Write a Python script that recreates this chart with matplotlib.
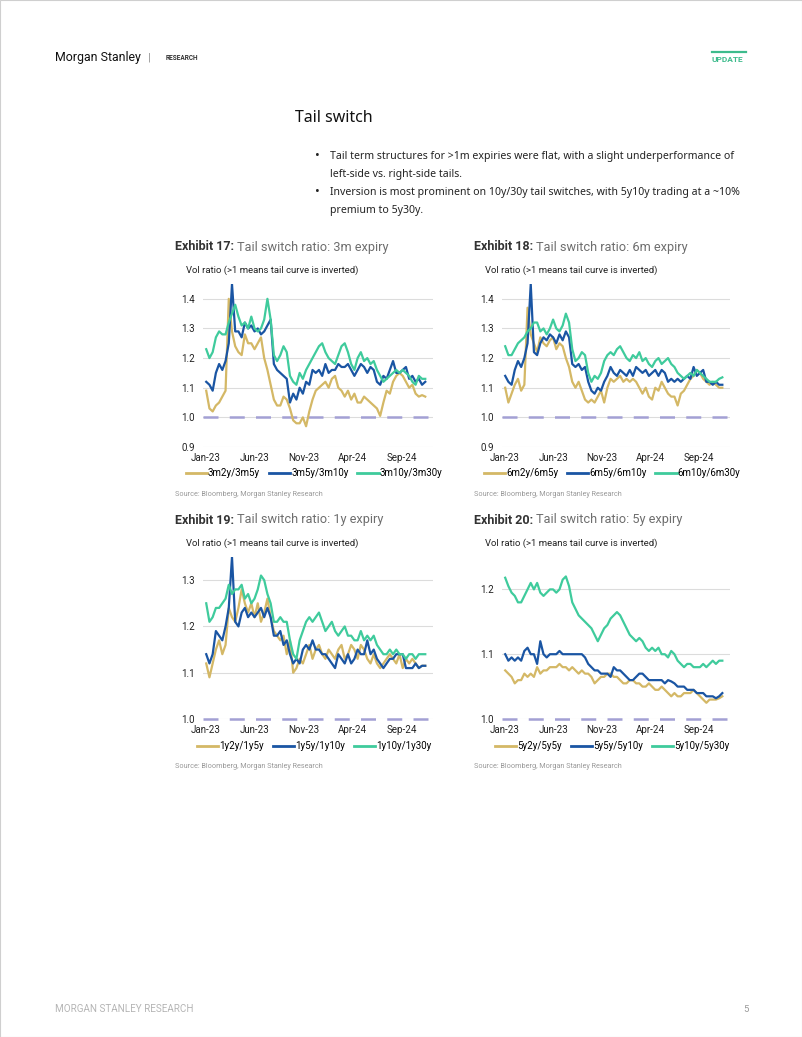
import matplotlib
matplotlib.use('Agg')
import matplotlib.pyplot as plt
from matplotlib.lines import Line2D
from matplotlib.patches import Rectangle
import pandas as pd

plt.rcParams['font.family'] = ['Roboto', 'DejaVu Sans']

W, H = 802, 1037

# sample dates, one every 10 days (Jan-23 .. Nov-24)
dates = pd.date_range('2023-01-02', periods=69, freq='10D')

# Exhibit 17: 3m expiry
r3m_2y5y = [1.09, 1.03, 1.02, 1.04, 1.05, 1.07, 1.09, 1.40, 1.29, 1.24,
            1.22, 1.21, 1.28, 1.25, 1.25, 1.23, 1.25, 1.27, 1.20, 1.16,
            1.11, 1.06, 1.04, 1.04, 1.07, 1.06, 1.03, 0.99, 0.98, 0.98,
            1.00, 0.97, 1.02, 1.06, 1.09, 1.10, 1.11, 1.12, 1.10, 1.13,
            1.14, 1.10, 1.09, 1.07, 1.09, 1.06, 1.08, 1.05, 1.05, 1.07,
            1.06, 1.05, 1.04, 1.03, 1.005, 1.05, 1.09, 1.08, 1.12, 1.14,
            1.15, 1.14, 1.12, 1.10, 1.11, 1.08, 1.07, 1.075, 1.07]
r3m_5y10y = [1.12, 1.11, 1.09, 1.15, 1.18, 1.16, 1.19, 1.25, 1.45, 1.29,
             1.29, 1.27, 1.32, 1.30, 1.31, 1.29, 1.30, 1.28, 1.29, 1.31,
             1.33, 1.18, 1.16, 1.15, 1.14, 1.13, 1.05, 1.08, 1.06, 1.10,
             1.08, 1.12, 1.11, 1.16, 1.15, 1.16, 1.14, 1.18, 1.15, 1.16,
             1.16, 1.18, 1.17, 1.17, 1.18, 1.16, 1.14, 1.16, 1.18, 1.17,
             1.15, 1.17, 1.16, 1.12, 1.11, 1.14, 1.13, 1.16, 1.19, 1.15,
             1.15, 1.16, 1.17, 1.13, 1.14, 1.12, 1.13, 1.11, 1.12]
r3m_10y30y = [1.23, 1.20, 1.22, 1.27, 1.29, 1.28, 1.28, 1.32, 1.35, 1.38,
              1.34, 1.31, 1.32, 1.30, 1.34, 1.30, 1.29, 1.30, 1.33, 1.40,
              1.33, 1.21, 1.19, 1.21, 1.24, 1.22, 1.14, 1.12, 1.11, 1.15,
              1.13, 1.16, 1.18, 1.20, 1.22, 1.24, 1.25, 1.22, 1.20, 1.19,
              1.18, 1.21, 1.24, 1.25, 1.22, 1.18, 1.16, 1.20, 1.22, 1.19,
              1.20, 1.18, 1.19, 1.16, 1.14, 1.12, 1.13, 1.14, 1.15, 1.16,
              1.15, 1.16, 1.15, 1.14, 1.12, 1.11, 1.14, 1.13, 1.13]

# Exhibit 18: 6m expiry
r6m_2y5y = [1.10, 1.05, 1.08, 1.11, 1.13, 1.09, 1.11, 1.37, 1.28, 1.25,
            1.22, 1.27, 1.25, 1.24, 1.26, 1.27, 1.23, 1.25, 1.24, 1.20,
            1.17, 1.12, 1.10, 1.12, 1.09, 1.06, 1.05, 1.06, 1.05, 1.07,
            1.09, 1.05, 1.10, 1.13, 1.12, 1.13, 1.14, 1.12, 1.13, 1.12,
            1.13, 1.12, 1.10, 1.08, 1.10, 1.07, 1.06, 1.10, 1.09, 1.12,
            1.10, 1.08, 1.07, 1.07, 1.04, 1.08, 1.09, 1.11, 1.13, 1.14,
            1.16, 1.15, 1.13, 1.12, 1.11, 1.12, 1.11, 1.10, 1.10]
r6m_5y10y = [1.14, 1.12, 1.11, 1.16, 1.19, 1.17, 1.20, 1.25, 1.45, 1.22,
             1.21, 1.25, 1.27, 1.26, 1.28, 1.27, 1.25, 1.28, 1.26, 1.29,
             1.27, 1.18, 1.17, 1.18, 1.16, 1.17, 1.12, 1.09, 1.08, 1.10,
             1.09, 1.12, 1.14, 1.17, 1.15, 1.14, 1.16, 1.15, 1.14, 1.16,
             1.14, 1.17, 1.16, 1.15, 1.16, 1.14, 1.15, 1.16, 1.14, 1.16,
             1.15, 1.12, 1.13, 1.12, 1.13, 1.12, 1.13, 1.14, 1.13, 1.17,
             1.14, 1.15, 1.16, 1.12, 1.12, 1.11, 1.12, 1.11, 1.11]
r6m_10y30y = [1.24, 1.21, 1.21, 1.23, 1.25, 1.26, 1.27, 1.29, 1.30, 1.32,
              1.32, 1.29, 1.30, 1.28, 1.30, 1.33, 1.30, 1.29, 1.31, 1.35,
              1.32, 1.23, 1.19, 1.20, 1.22, 1.21, 1.15, 1.12, 1.14, 1.13,
              1.15, 1.19, 1.21, 1.22, 1.21, 1.23, 1.24, 1.22, 1.20, 1.19,
              1.21, 1.20, 1.22, 1.19, 1.20, 1.18, 1.17, 1.19, 1.20, 1.18,
              1.19, 1.20, 1.18, 1.17, 1.15, 1.14, 1.13, 1.14, 1.15, 1.14,
              1.16, 1.15, 1.14, 1.13, 1.12, 1.12, 1.12, 1.13, 1.135]

# Exhibit 19: 1y expiry
r1y_2y5y = [1.12, 1.09, 1.12, 1.15, 1.17, 1.14, 1.16, 1.24, 1.22, 1.21,
            1.24, 1.28, 1.25, 1.23, 1.25, 1.22, 1.25, 1.21, 1.23, 1.26,
            1.22, 1.19, 1.18, 1.17, 1.18, 1.14, 1.17, 1.10, 1.11, 1.13,
            1.12, 1.14, 1.16, 1.13, 1.15, 1.16, 1.14, 1.13, 1.15, 1.14,
            1.13, 1.15, 1.16, 1.13, 1.14, 1.16, 1.15, 1.13, 1.16, 1.15,
            1.13, 1.12, 1.14, 1.12, 1.11, 1.12, 1.13, 1.14, 1.13, 1.12,
            1.14, 1.11, 1.13, 1.12, 1.13, 1.12, 1.11, 1.115, 1.115]
r1y_5y10y = [1.14, 1.12, 1.14, 1.19, 1.18, 1.17, 1.20, 1.24, 1.35, 1.21,
             1.20, 1.23, 1.24, 1.22, 1.23, 1.22, 1.23, 1.24, 1.22, 1.24,
             1.22, 1.18, 1.18, 1.19, 1.16, 1.17, 1.14, 1.12, 1.13, 1.12,
             1.15, 1.16, 1.15, 1.17, 1.15, 1.15, 1.14, 1.14, 1.13, 1.12,
             1.11, 1.14, 1.13, 1.12, 1.14, 1.12, 1.13, 1.15, 1.14, 1.14,
             1.17, 1.14, 1.15, 1.13, 1.12, 1.11, 1.12, 1.13, 1.13, 1.14,
             1.14, 1.14, 1.11, 1.11, 1.11, 1.12, 1.11, 1.115, 1.115]
r1y_10y30y = [1.25, 1.21, 1.22, 1.24, 1.24, 1.25, 1.26, 1.29, 1.27, 1.28,
              1.28, 1.29, 1.26, 1.27, 1.25, 1.26, 1.28, 1.31, 1.30, 1.27,
              1.25, 1.21, 1.21, 1.22, 1.21, 1.21, 1.17, 1.14, 1.13, 1.17,
              1.19, 1.21, 1.22, 1.21, 1.22, 1.23, 1.21, 1.19, 1.20, 1.21,
              1.19, 1.18, 1.19, 1.20, 1.18, 1.18, 1.17, 1.17, 1.19, 1.17,
              1.18, 1.17, 1.18, 1.16, 1.15, 1.14, 1.14, 1.15, 1.14, 1.15,
              1.14, 1.14, 1.13, 1.14, 1.14, 1.13, 1.14, 1.14, 1.14]

# Exhibit 20: 5y expiry
r5y_2y5y = [1.075, 1.07, 1.065, 1.055, 1.06, 1.06, 1.07, 1.065, 1.07, 1.065,
            1.08, 1.07, 1.075, 1.075, 1.08, 1.08, 1.08, 1.085, 1.08, 1.08,
            1.075, 1.08, 1.075, 1.07, 1.075, 1.07, 1.07, 1.065, 1.055, 1.06,
            1.065, 1.065, 1.07, 1.07, 1.065, 1.065, 1.06, 1.055, 1.055, 1.06,
            1.06, 1.055, 1.055, 1.05, 1.05, 1.055, 1.05, 1.045, 1.045, 1.05,
            1.045, 1.04, 1.035, 1.04, 1.035, 1.035, 1.04, 1.04, 1.04, 1.045,
            1.04, 1.035, 1.03, 1.025, 1.03, 1.03, 1.03, 1.032, 1.035]
r5y_5y10y = [1.10, 1.09, 1.095, 1.09, 1.095, 1.09, 1.105, 1.11, 1.10, 1.10,
             1.085, 1.12, 1.10, 1.095, 1.10, 1.10, 1.10, 1.105, 1.10, 1.10,
             1.10, 1.10, 1.10, 1.10, 1.10, 1.095, 1.085, 1.08, 1.075, 1.075,
             1.07, 1.07, 1.07, 1.065, 1.08, 1.075, 1.075, 1.07, 1.065, 1.06,
             1.06, 1.065, 1.07, 1.07, 1.065, 1.06, 1.06, 1.06, 1.06, 1.06,
             1.055, 1.06, 1.058, 1.055, 1.05, 1.05, 1.05, 1.045, 1.045, 1.045,
             1.04, 1.04, 1.04, 1.035, 1.035, 1.035, 1.032, 1.035, 1.04]
r5y_10y30y = [1.218, 1.205, 1.195, 1.19, 1.18, 1.18, 1.19, 1.20, 1.21, 1.20,
              1.21, 1.195, 1.19, 1.195, 1.20, 1.20, 1.195, 1.20, 1.215, 1.22,
              1.205, 1.18, 1.17, 1.16, 1.155, 1.15, 1.145, 1.14, 1.13, 1.12,
              1.13, 1.14, 1.145, 1.155, 1.16, 1.165, 1.16, 1.15, 1.14, 1.13,
              1.125, 1.12, 1.125, 1.12, 1.11, 1.105, 1.11, 1.105, 1.11, 1.10,
              1.10, 1.095, 1.105, 1.10, 1.09, 1.085, 1.08, 1.085, 1.085, 1.08,
              1.08, 1.08, 1.085, 1.08, 1.085, 1.09, 1.085, 1.09, 1.09]

x_ticks = ['2023-01-01', '2023-06-01', '2023-11-01', '2024-04-01', '2024-09-01']
x_tick_labels = ['Jan-23', 'Jun-23', 'Nov-23', 'Apr-24', 'Sep-24']

GOLD = '#d4b866'
BLUE = '#1a55a3'
TEAL = '#3fcb9c'
DASH = '#a3a0d4'
GRID = '#dcdcdc'


def panel(left, top, width, height, series, labels, ylim, yticks, num, expiry):
    ax = fig.add_axes([left / W, 1 - (top + height) / H, width / W, height / H])
    ax.axhline(1.0, color=DASH, lw=1.8, dashes=(6, 4.5), zorder=1, clip_on=False)
    for vals, c in zip(series, [GOLD, BLUE, TEAL]):
        ax.plot(dates, vals, color=c, lw=1.6, zorder=2)
    ax.set_ylim(*ylim)
    ax.set_yticks(yticks)
    ax.set_yticklabels(['%.1f' % v for v in yticks])
    ax.set_xlim(pd.Timestamp('2022-12-23'), pd.Timestamp('2024-12-06'))
    ax.set_xticks(pd.to_datetime(x_ticks))
    ax.set_xticklabels(x_tick_labels)
    ax.grid(axis='y', color=GRID, lw=0.8, zorder=0)
    ax.set_axisbelow(True)
    for s in ax.spines.values():
        s.set_visible(False)
    ax.tick_params(length=0, labelsize=7, colors='#222222')
    ax.tick_params(axis='y', pad=6)
    ax.tick_params(axis='x', pad=4)

    fig.text((left - 28) / W, 1 - (top - 37) / H, 'Exhibit %d:' % num,
             fontsize=9, fontweight='bold', color='#333333', va='center')
    fig.text((left + 34) / W, 1 - (top - 37) / H,
             'Tail switch ratio: %s expiry' % expiry,
             fontsize=9.2, color='#6e6e6e', va='center')
    fig.text((left - 17) / W, 1 - (top - 14) / H,
             'Vol ratio (>1 means tail curve is inverted)',
             fontsize=6.8, color='#222222', va='center')
    fig.text((left - 28) / W, 1 - (top + 210) / H,
             'Source: Bloomberg, Morgan Stanley Research',
             fontsize=5.2, color='#999999', va='center')
    handles = [Line2D([], [], color=c, lw=2) for c in [GOLD, BLUE, TEAL]]
    fig.legend(handles, labels, loc='center', ncol=3, frameon=False,
               bbox_to_anchor=((left + width / 2 - 4) / W, 1 - (top + 189) / H),
               fontsize=7, handlelength=2.2, handletextpad=0.1,
               columnspacing=0.9, borderaxespad=0)
    return ax


fig = plt.figure(figsize=(W / 100, H / 100), dpi=100)

fig.patches.append(Rectangle((0, 0), 1, 1, transform=fig.transFigure,
                             fill=False, ec='#cfcfcf', lw=0.8))

# header
fig.text(55 / W, 1 - 57 / H, 'Morgan Stanley', fontsize=8.9, color='#111111', va='center')
fig.text(148 / W, 1 - 57 / H, '|', fontsize=8, color='#888888', va='center')
fig.text(166 / W, 1 - 58 / H, 'RESEARCH', fontsize=4.7, fontweight='bold',
         color='#333333', va='center')
fig.text(712 / W, 1 - 59 / H, 'UPDATE', fontsize=6, fontweight='bold',
         color='#3dbb8c', va='center')
fig.add_artist(Line2D([712 / W, 746 / W], [1 - 51.5 / H, 1 - 51.5 / H],
                      color='#3dbb8c', lw=1.6))

# section title and bullets
fig.text(295 / W, 1 - 118 / H, 'Tail switch', fontsize=11.5, color='#111111',
         va='center', family=['Noto Sans', 'DejaVu Sans'])
bullets = [
    (156, True, 'Tail term structures for >1m expiries were flat, with a slight underperformance of'),
    (174, False, 'left-side vs. right-side tails.'),
    (192, True, 'Inversion is most prominent on 10y/30y tail switches, with 5y10y trading at a ~10%'),
    (210, False, 'premium to 5y30y.'),
]
for y, dot, txt in bullets:
    if dot:
        fig.text(315 / W, 1 - y / H, '\u2022', fontsize=10, color='#222222', va='center')
    fig.text(330 / W, 1 - y / H, txt, fontsize=7.6, color='#222222', va='center',
             family=['Noto Sans', 'DejaVu Sans'])

panel(203, 284, 230, 163, [r3m_2y5y, r3m_5y10y, r3m_10y30y],
      ['3m2y/3m5y', '3m5y/3m10y', '3m10y/3m30y'],
      (0.9, 1.45), [0.9, 1.0, 1.1, 1.2, 1.3, 1.4], 17, '3m')
panel(502, 284, 228, 163, [r6m_2y5y, r6m_5y10y, r6m_10y30y],
      ['6m2y/6m5y', '6m5y/6m10y', '6m10y/6m30y'],
      (0.9, 1.45), [0.9, 1.0, 1.1, 1.2, 1.3, 1.4], 18, '6m')
panel(203, 557, 230, 162, [r1y_2y5y, r1y_5y10y, r1y_10y30y],
      ['1y2y/1y5y', '1y5y/1y10y', '1y10y/1y30y'],
      (1.0, 1.35), [1.0, 1.1, 1.2, 1.3], 19, '1y')
panel(502, 557, 228, 162, [r5y_2y5y, r5y_5y10y, r5y_10y30y],
      ['5y2y/5y5y', '5y5y/5y10y', '5y10y/5y30y'],
      (1.0, 1.25), [1.0, 1.1, 1.2], 20, '5y')

# footer
fig.text(55 / W, 1 - 1009 / H, 'MORGAN STANLEY RESEARCH', fontsize=7.1,
         color='#b5b5b5', va='center')
fig.text(743 / W, 1 - 1009 / H, '5', fontsize=6.8, color='#999999', va='center')

fig.savefig('out.png', dpi=100)
